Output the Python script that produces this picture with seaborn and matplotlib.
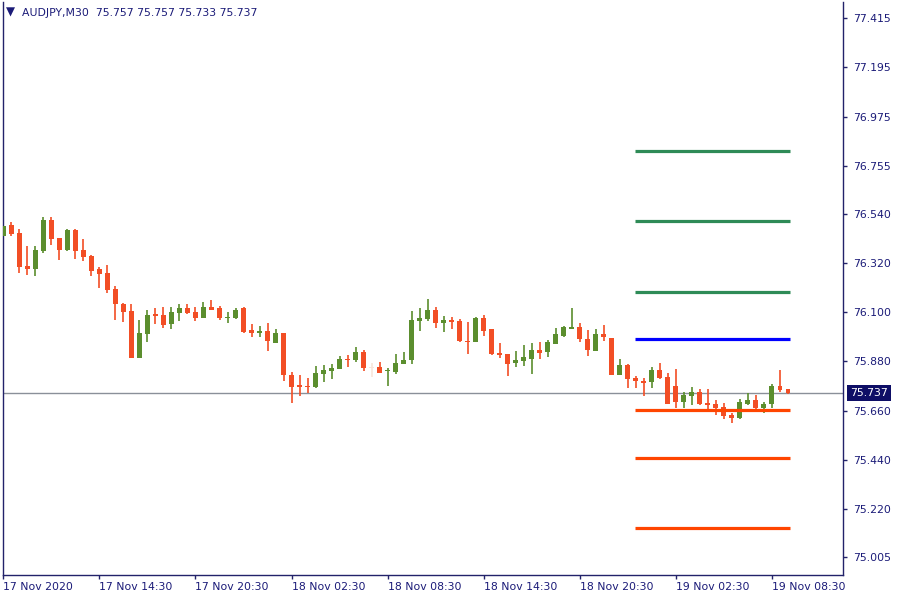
import numpy as np
import pandas as pd
import matplotlib
matplotlib.use("Agg")
import matplotlib.pyplot as plt
import seaborn as sns

# ---------------- data ----------------
symbol = "AUDJPY,M30"
header_ohlc = ["75.757", "75.757", "75.733", "75.737"]

opens = [76.441, 76.490, 76.454, 76.307, 76.293, 76.374, 76.512, 76.432, 76.378, 76.467,
         76.378, 76.351, 76.293, 76.275, 76.204, 76.137, 76.105, 75.895, 76.002, 76.092,
         76.087, 76.047, 76.096, 76.119, 76.101, 76.074, 76.123, 76.119, 76.074, 76.074,
         76.119, 76.020, 76.007, 76.016, 75.962, 76.007, 75.819, 75.774, 75.770, 75.765,
         75.823, 75.837, 75.846, 75.890, 75.886, 75.922, 75.855, 75.855, 75.837, 75.832,
         75.868, 75.886, 76.061, 76.069, 76.110, 76.052, 76.065, 76.061, 75.971, 75.967,
         76.074, 76.025, 75.917, 75.913, 75.873, 75.881, 75.890, 75.931, 75.922, 75.958,
         75.993, 76.025, 76.034, 75.980, 75.926, 76.002, 75.984, 75.819, 75.864, 75.806,
         75.792, 75.788, 75.841, 75.810, 75.770, 75.698, 75.725, 75.743, 75.694, 75.689,
         75.676, 75.640, 75.627, 75.689, 75.707, 75.672, 75.689, 75.770, 75.757]
highs = [76.503, 76.503, 76.472, 76.396, 76.396, 76.525, 76.525, 76.432, 76.472, 76.472,
         76.428, 76.356, 76.302, 76.311, 76.217, 76.141, 76.137, 76.065, 76.110, 76.119,
         76.123, 76.123, 76.137, 76.137, 76.123, 76.145, 76.154, 76.128, 76.101, 76.119,
         76.123, 76.047, 76.038, 76.052, 76.025, 76.007, 75.832, 75.819, 75.806, 75.859,
         75.864, 75.868, 75.904, 75.908, 75.944, 75.931, 75.873, 75.877, 75.850, 75.913,
         75.922, 76.105, 76.119, 76.159, 76.123, 76.083, 76.078, 76.069, 76.056, 76.078,
         76.087, 76.025, 75.962, 75.913, 75.926, 75.953, 75.962, 75.967, 75.975, 76.029,
         76.038, 76.119, 76.052, 76.020, 76.025, 76.043, 75.984, 75.890, 75.868, 75.814,
         75.806, 75.855, 75.873, 75.828, 75.846, 75.743, 75.765, 75.756, 75.756, 75.707,
         75.694, 75.649, 75.712, 75.738, 75.730, 75.698, 75.779, 75.841, 75.757]
lows = [76.419, 76.441, 76.275, 76.266, 76.262, 76.365, 76.400, 76.334, 76.374, 76.338,
        76.329, 76.262, 76.208, 76.186, 76.065, 76.056, 75.895, 75.895, 75.967, 76.047,
        76.029, 76.025, 76.061, 76.092, 76.061, 76.074, 76.110, 76.065, 76.052, 76.069,
        76.007, 75.989, 75.989, 75.926, 75.962, 75.792, 75.694, 75.725, 75.738, 75.761,
        75.788, 75.801, 75.846, 75.855, 75.877, 75.837, 75.810, 75.828, 75.770, 75.823,
        75.868, 75.868, 76.016, 76.061, 76.029, 76.011, 76.025, 75.967, 75.913, 75.967,
        75.993, 75.908, 75.895, 75.814, 75.855, 75.859, 75.823, 75.890, 75.899, 75.958,
        75.989, 76.025, 75.967, 75.904, 75.926, 75.971, 75.819, 75.819, 75.761, 75.761,
        75.725, 75.761, 75.801, 75.689, 75.672, 75.672, 75.685, 75.685, 75.667, 75.640,
        75.622, 75.604, 75.622, 75.685, 75.663, 75.649, 75.672, 75.743, 75.733]
closes = [76.485, 76.450, 76.302, 76.293, 76.378, 76.512, 76.428, 76.378, 76.467, 76.374,
          76.347, 76.284, 76.271, 76.199, 76.137, 76.101, 75.895, 76.007, 76.087, 76.083,
          76.043, 76.101, 76.119, 76.096, 76.074, 76.123, 76.110, 76.074, 76.078, 76.110,
          76.011, 76.007, 76.016, 75.971, 76.007, 75.819, 75.765, 75.765, 75.765, 75.828,
          75.841, 75.850, 75.890, 75.886, 75.922, 75.850, 75.850, 75.828, 75.841, 75.873,
          75.886, 76.065, 76.074, 76.110, 76.052, 76.065, 76.056, 75.971, 75.967, 76.074,
          76.016, 75.913, 75.908, 75.868, 75.886, 75.899, 75.931, 75.917, 75.967, 76.002,
          76.034, 76.034, 75.980, 75.931, 76.002, 75.989, 75.819, 75.864, 75.801, 75.792,
          75.783, 75.841, 75.806, 75.689, 75.698, 75.730, 75.743, 75.689, 75.685, 75.672,
          75.636, 75.627, 75.698, 75.707, 75.672, 75.689, 75.770, 75.752, 75.737]

x_tick_bars = [0, 12, 24, 36, 48, 60, 72, 84, 96]
x_tick_labels = ["17 Nov 2020", "17 Nov 14:30", "17 Nov 20:30", "18 Nov 02:30",
                 "18 Nov 08:30", "18 Nov 14:30", "18 Nov 20:30", "19 Nov 02:30",
                 "19 Nov 08:30"]
y_ticks = [77.415, 77.195, 76.975, 76.755, 76.540, 76.320, 76.100, 75.880,
           75.660, 75.440, 75.220, 75.005]

level_prices = [76.820, 76.508, 76.190, 75.980, 75.663, 75.448, 75.135]
level_kinds = ["resistance", "resistance", "resistance", "pivot",
               "support", "support", "support"]
level_start_bar = 78.9
level_end_bar = 98.2
last_price = 75.737
faded_bar = 46

# ---------------- style ----------------
NAVY = "#1b1b78"
SPINE = "#22226a"
UP = "#5b8e2e"
DOWN = "#f24e25"
LEVEL_COLORS = {"resistance": "#2e8b57", "pivot": "#0000ff", "support": "#ff4500"}

sns.set_theme(style="white")
plt.rcParams["font.family"] = ["DejaVu Sans"]
FS = 7.8

fig = plt.figure(figsize=(9, 6), dpi=100)
ax = fig.add_axes([3 / 900, 25 / 600, 840 / 900, 573 / 600])

n = len(opens)
df = pd.DataFrame({"bar": np.arange(n), "open": opens, "high": highs,
                   "low": lows, "close": closes})
df["up"] = df["close"] > df["open"]
df["color"] = np.where(df["up"], UP, DOWN)
df.loc[faded_bar, "color"] = "#f7e6dc"
body_lo = np.minimum(df["open"], df["close"])
body_h = np.maximum(np.abs(df["close"] - df["open"]), 0.0045)

# current price line
sns.lineplot(x=[-1, 110], y=[last_price, last_price], ax=ax, color="#8a9099",
             lw=1.0, zorder=1)

# wicks + bodies
ax.vlines(df["bar"], df["low"], df["high"], colors=df["color"], lw=1.2, zorder=2)
ax.bar(df["bar"], body_h, bottom=body_lo, width=0.62, color=df["color"],
       linewidth=0, zorder=3)

# levels
lv = pd.DataFrame({
    "bar": [level_start_bar, level_end_bar] * len(level_prices),
    "price": [p for p in level_prices for _ in range(2)],
    "id": [i for i in range(len(level_prices)) for _ in range(2)],
})
for i, (p, kind) in enumerate(zip(level_prices, level_kinds)):
    sub = lv[lv["id"] == i]
    sns.lineplot(data=sub, x="bar", y="price", ax=ax, color=LEVEL_COLORS[kind],
                 lw=2.3, zorder=4, solid_capstyle="butt")

ax.set_xlim(-0.04, 104.87)
ax.set_ylim(74.925, 77.487)
ax.set_xlabel("")
ax.set_ylabel("")

ax.set_xticks(x_tick_bars)
ax.set_xticklabels(x_tick_labels, ha="left")
ax.set_yticks(y_ticks)
ax.set_yticklabels([f"{v:.3f}" for v in y_ticks])
ax.yaxis.tick_right()
ax.tick_params(axis="x", direction="out", length=3, width=1, color=SPINE,
               labelsize=FS, labelcolor=NAVY, pad=2, bottom=True)
ax.tick_params(axis="y", direction="out", length=3, width=1, color=SPINE,
               labelsize=FS, labelcolor=NAVY, pad=4, right=True, left=False)
for lab in ax.get_xticklabels():
    lab.set_horizontalalignment("left")

for s in ax.spines.values():
    s.set_visible(False)
for s in ["right", "bottom", "left"]:
    ax.spines[s].set_visible(True)
    ax.spines[s].set_color(SPINE)
    ax.spines[s].set_linewidth(1.0)
ax.grid(False)

# current price tag
ax.annotate(f"{last_price:.3f}", xy=(1.0, last_price),
            xycoords=("axes fraction", "data"), xytext=(5.0, 0),
            textcoords="offset points", ha="left", va="center",
            fontsize=FS, color="white",
            bbox=dict(boxstyle="square,pad=0.28", fc="#0e0e66", ec="none"),
            zorder=10, annotation_clip=False)

# header
fig.text(6 / 900, 1 - 12.5 / 600, "▼", fontsize=8.5, color=NAVY, va="center", ha="left")
fig.text(22 / 900, 1 - 13 / 600, f"{symbol}  " + " ".join(header_ohlc),
         fontsize=FS, color=NAVY, va="center", ha="left")

fig.savefig("out.png", dpi=100, facecolor="white")
